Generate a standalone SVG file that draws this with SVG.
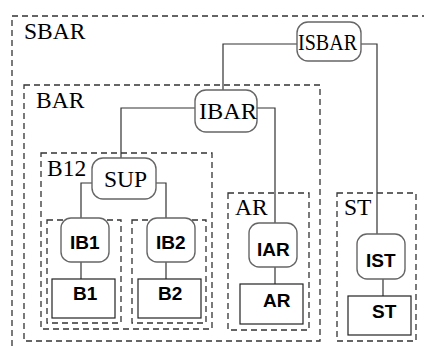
<svg xmlns="http://www.w3.org/2000/svg" width="424" height="349" viewBox="0 0 424 349">
<style>
.grp{fill:none;stroke:#333;stroke-width:1.3;stroke-dasharray:6 4}
.node{fill:#fff;stroke:#666;stroke-width:1.4}
.leaf{fill:#fff;stroke:#222;stroke-width:1.2}
.con{fill:none;stroke:#333;stroke-width:1.2}
.t{font-family:"Liberation Serif","Times New Roman",serif;font-size:23.5px;fill:#000}
.b{font-family:"Liberation Sans",Arial,sans-serif;font-size:19px;font-weight:bold;fill:#000}
</style>
<rect width="424" height="349" fill="#fff"/>
<g id="groups">
<rect id="SBAR" class="grp" x="12" y="16" width="430" height="350"/>
<rect id="BAR" class="grp" x="24" y="85" width="296" height="256"/>
<rect id="B12" class="grp" x="41" y="153" width="171" height="176"/>
<rect id="B1grp" class="grp" x="47" y="220" width="74" height="103"/>
<rect id="B2grp" class="grp" x="132" y="220" width="74" height="103"/>
<rect id="ARgrp" class="grp" x="228" y="193" width="81" height="137"/>
<rect id="STgrp" class="grp" x="337" y="193" width="79" height="148"/>
</g>
<g id="group-labels">
<text class="t" x="24" y="39">SBAR</text>
<text class="t" x="36" y="108">BAR</text>
<text class="t" x="47" y="176">B12</text>
<text class="t" x="235" y="215">AR</text>
<text class="t" x="344" y="215">ST</text>
</g>
<g id="connectors">
<polyline class="con" points="297,44 223,44 223,90"/>
<polyline class="con" points="361,44 377,44 377,234"/>
<polyline class="con" points="195,108 121,108 121,158"/>
<polyline class="con" points="257,108 275,108 275,223"/>
<polyline class="con" points="92,183 81,183 81,218"/>
<polyline class="con" points="156,183 166,183 166,218"/>
<line class="con" x1="81" y1="262" x2="81" y2="279"/>
<line class="con" x1="166" y1="262" x2="166" y2="279"/>
<line class="con" x1="275" y1="267" x2="275" y2="284"/>
<line class="con" x1="383" y1="279" x2="383" y2="296"/>
</g>
<g id="ISBAR">
<rect class="node" x="297" y="22" width="64" height="39" rx="11"/>
<text class="t" x="298" y="50" textLength="59" lengthAdjust="spacingAndGlyphs">ISBAR</text>
</g>
<g id="IBAR">
<rect class="node" x="195" y="90" width="62" height="42" rx="11"/>
<text class="t" x="199" y="119" textLength="58" lengthAdjust="spacingAndGlyphs">IBAR</text>
</g>
<g id="SUP">
<rect class="node" x="92" y="158" width="64" height="41" rx="11"/>
<text class="t" x="104" y="187">SUP</text>
</g>
<g id="IB1">
<rect class="node" x="61" y="218" width="48" height="44" rx="10"/>
<text class="b" x="70" y="249">IB1</text>
</g>
<g id="IB2">
<rect class="node" x="147" y="218" width="48" height="44" rx="10"/>
<text class="b" x="156" y="249">IB2</text>
</g>
<g id="B1">
<rect class="leaf" x="52" y="279" width="63" height="39"/>
<text class="b" x="73" y="300">B1</text>
</g>
<g id="B2">
<rect class="leaf" x="138" y="279" width="63" height="39"/>
<text class="b" x="158" y="300">B2</text>
</g>
<g id="IAR">
<rect class="node" x="249" y="223" width="48" height="44" rx="10"/>
<text class="b" x="257" y="256">IAR</text>
</g>
<g id="AR">
<rect class="leaf" x="240" y="284" width="63" height="40"/>
<text class="b" x="263" y="307">AR</text>
</g>
<g id="IST">
<rect class="node" x="357" y="234" width="48" height="45" rx="10"/>
<text class="b" x="366" y="267">IST</text>
</g>
<g id="ST">
<rect class="leaf" x="348" y="296" width="63" height="39"/>
<text class="b" x="372" y="318">ST</text>
</g>
</svg>
